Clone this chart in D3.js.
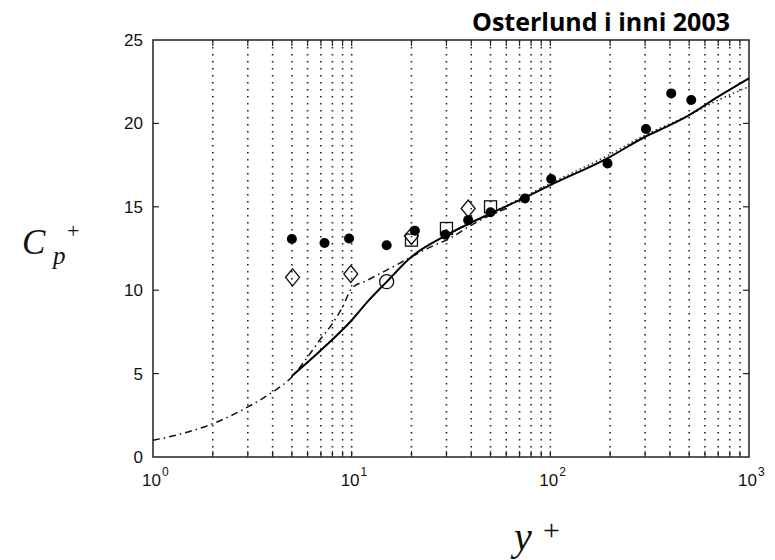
<!DOCTYPE html>
<html>
<head>
<meta charset="utf-8">
<script src="https://cdn.jsdelivr.net/npm/d3@7"></script>
<style>
  html, body { margin: 0; padding: 0; background: #fff; }
  svg { display: block; }
</style>
</head>
<body>
<svg id="chart" width="775" height="560"></svg>
<script>
// Experimental points
const filledX = [5, 7.3, 9.7, 15, 20.8, 29.6, 38.6, 50, 74.5, 101, 194, 303, 406, 512];
const filledY = [13.07, 12.83, 13.1, 12.7, 13.57, 13.33, 14.2, 14.67, 15.5, 16.67, 17.6, 19.66, 21.8, 21.4];

const diamondX = [5.04, 9.9, 20, 38.6];
const diamondY = [10.77, 10.97, 13.25, 14.9];

const squareX = [20, 30, 50];
const squareY = [13.0, 13.7, 15.0];

const openCircleX = [15];
const openCircleY = [10.51];

// Model curves
const solidX = [5, 7, 10, 12, 15, 20, 30, 50, 70, 100, 200, 300, 400, 500, 700, 1000];
const solidY = [4.86, 6.4, 8.2, 9.3, 10.5, 12.0, 13.3, 14.6, 15.4, 16.3, 18.0, 19.2, 19.9, 20.5, 21.6, 22.7];

const dottedX = [30, 50, 100, 200, 300, 500, 700, 1000];
const dottedY = [13.3, 14.6, 16.4, 18.15, 19.3, 20.5, 21.4, 22.2];

const dashDotX = [1, 1.5, 2, 3, 4, 5, 6, 7, 8, 9, 10, 12, 15, 20, 25, 30, 40, 50, 60];
const dashDotY = [1.0, 1.5, 2.0, 3.0, 3.9, 4.8, 6.0, 7.1, 8.0, 9.0, 10.1, 10.6, 11.2, 12.0, 12.6, 13.0, 13.9, 14.5, 14.9];

// Axis ticks
const xMajorTicks = [1, 10, 100, 1000];
const xMajorExp = ["0", "1", "2", "3"];
const yTicks = [0, 5, 10, 15, 20, 25];

const titleText = "Osterlund i inni 2003";

const svg = d3.select("#chart");
const L = 153, R = 749, T = 40, B = 457;

const x = d3.scaleLog().domain([1, 1000]).range([L, R]);
const y = d3.scaleLinear().domain([0, 25]).range([B, T]);

// Minor ticks 2..9 in each decade plus interior decades
const minorTicks = [];
for (let d = 1; d < 1000; d *= 10) {
  for (let k = 2; k <= 9; k++) minorTicks.push(d * k);
}
const gridTicks = minorTicks.concat([10, 100]);

// Dotted vertical grid
svg.append("g").selectAll("line").data(gridTicks).join("line")
  .attr("x1", d => x(d)).attr("x2", d => x(d))
  .attr("y1", T).attr("y2", B)
  .attr("stroke", "#222").attr("stroke-width", 1.6)
  .attr("stroke-dasharray", "1.6,5.4");

// Frame
svg.append("rect").attr("x", L).attr("y", T).attr("width", R - L).attr("height", B - T)
  .attr("fill", "none").attr("stroke", "#222").attr("stroke-width", 1.5);

// X tick marks (bottom and top, inward)
svg.append("g").selectAll("line").data(gridTicks).join("line")
  .attr("x1", d => x(d)).attr("x2", d => x(d))
  .attr("y1", B).attr("y2", B - 6)
  .attr("stroke", "#222").attr("stroke-width", 1.2);
svg.append("g").selectAll("line").data(gridTicks).join("line")
  .attr("x1", d => x(d)).attr("x2", d => x(d))
  .attr("y1", T).attr("y2", T + 6)
  .attr("stroke", "#222").attr("stroke-width", 1.2);

// Y tick marks (left and right, inward)
svg.append("g").selectAll("line").data(yTicks.slice(1, -1)).join("line")
  .attr("x1", L).attr("x2", L + 6).attr("y1", d => y(d)).attr("y2", d => y(d))
  .attr("stroke", "#222").attr("stroke-width", 1.2);
svg.append("g").selectAll("line").data(yTicks.slice(1, -1)).join("line")
  .attr("x1", R).attr("x2", R - 6).attr("y1", d => y(d)).attr("y2", d => y(d))
  .attr("stroke", "#222").attr("stroke-width", 1.2);

// Y tick labels
svg.append("g").selectAll("text").data(yTicks).join("text")
  .attr("x", L - 10).attr("y", d => y(d) + 6)
  .attr("text-anchor", "end")
  .attr("font-family", "Liberation Sans, Arial, sans-serif")
  .attr("font-size", 17).attr("fill", "#111")
  .text(d => d);

// X tick labels as 10 with exponent
const xl = svg.append("g").selectAll("text").data(xMajorTicks).join("text")
  .attr("x", d => x(d) - 11).attr("y", 486)
  .attr("font-family", "Liberation Sans, Arial, sans-serif")
  .attr("font-size", 17).attr("fill", "#111");
xl.append("tspan").text("10");
xl.append("tspan").attr("dx", 1).attr("dy", -10).attr("font-size", 12).text((d, i) => xMajorExp[i]);

// Curves
const line = d3.line().x(d => x(d[0])).y(d => y(d[1])).curve(d3.curveMonotoneX);
const zip = (a, b) => a.map((v, i) => [v, b[i]]);

svg.append("path").datum(zip(dottedX, dottedY)).attr("d", line)
  .attr("fill", "none").attr("stroke", "#222").attr("stroke-width", 1.4)
  .attr("stroke-dasharray", "1.5,3");

svg.append("path").datum(zip(dashDotX, dashDotY)).attr("d", line)
  .attr("fill", "none").attr("stroke", "#111").attr("stroke-width", 1.5)
  .attr("stroke-dasharray", "7,4,1.5,4");

svg.append("path").datum(zip(solidX, solidY)).attr("d", line)
  .attr("fill", "none").attr("stroke", "#000").attr("stroke-width", 2);

// Markers
svg.append("g").selectAll("path").data(zip(diamondX, diamondY)).join("path")
  .attr("d", d => {
    const cx = x(d[0]), cy = y(d[1]);
    return `M${cx},${cy - 8.5}L${cx + 7},${cy}L${cx},${cy + 8.5}L${cx - 7},${cy}Z`;
  })
  .attr("fill", "none").attr("stroke", "#111").attr("stroke-width", 1.3);

svg.append("g").selectAll("rect").data(zip(squareX, squareY)).join("rect")
  .attr("x", d => x(d[0]) - 6).attr("y", d => y(d[1]) - 6)
  .attr("width", 12).attr("height", 12)
  .attr("fill", "none").attr("stroke", "#111").attr("stroke-width", 1.3);

svg.append("g").selectAll("circle").data(zip(openCircleX, openCircleY)).join("circle")
  .attr("cx", d => x(d[0])).attr("cy", d => y(d[1])).attr("r", 7)
  .attr("fill", "none").attr("stroke", "#111").attr("stroke-width", 1.3);

svg.append("g").selectAll("circle").data(zip(filledX, filledY)).join("circle")
  .attr("cx", d => x(d[0])).attr("cy", d => y(d[1])).attr("r", 5)
  .attr("fill", "#000");

// Axis labels
svg.append("text").attr("x", 22).attr("y", 254)
  .attr("font-family", "Liberation Serif, DejaVu Serif, serif")
  .attr("font-style", "italic").attr("font-size", 35).attr("fill", "#111").text("C");
svg.append("text").attr("x", 53).attr("y", 264)
  .attr("font-family", "Liberation Serif, DejaVu Serif, serif")
  .attr("font-style", "italic").attr("font-size", 25).attr("fill", "#111").text("p");
svg.append("text").attr("x", 67).attr("y", 238)
  .attr("font-family", "Liberation Serif, DejaVu Serif, serif")
  .attr("font-size", 22).attr("fill", "#111").text("+");

svg.append("text").attr("x", 514).attr("y", 550)
  .attr("font-family", "Liberation Serif, DejaVu Serif, serif")
  .attr("font-style", "italic").attr("font-size", 40).attr("fill", "#111").text("y");
svg.append("text").attr("x", 543).attr("y", 540)
  .attr("font-family", "Liberation Serif, DejaVu Serif, serif")
  .attr("font-size", 30).attr("fill", "#111").text("+");

// Title
svg.append("text").attr("x", 601).attr("y", 31)
  .attr("text-anchor", "middle")
  .attr("font-family", "Open Sans, Liberation Sans, sans-serif")
  .attr("font-weight", "bold").attr("font-size", 25).attr("fill", "#000")
  .text(titleText);
</script>
</body>
</html>
